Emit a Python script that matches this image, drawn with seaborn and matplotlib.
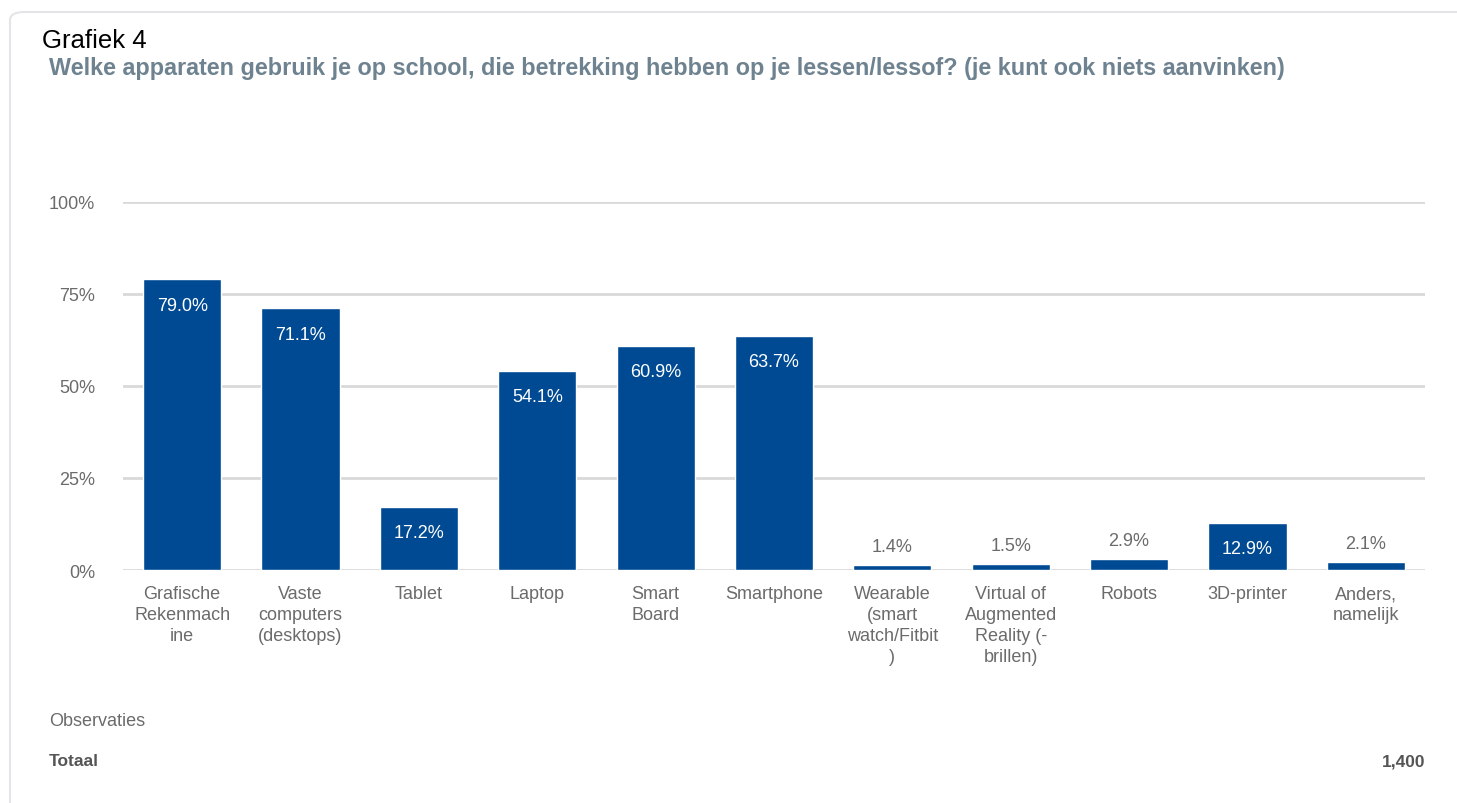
import matplotlib
matplotlib.use("Agg")
import matplotlib.pyplot as plt
from matplotlib.patches import FancyBboxPatch
import seaborn as sns
import pandas as pd

# data
categories = [
    "Grafische\nRekenmach\nine",
    "Vaste\ncomputers\n(desktops)",
    "Tablet",
    "Laptop",
    "Smart\nBoard",
    "Smartphone",
    "Wearable\n(smart\nwatch/Fitbit\n)",
    "Virtual of\nAugmented\nReality (-\nbrillen)",
    "Robots",
    "3D-printer",
    "Anders,\nnamelijk",
]
percentages = [79.0, 71.1, 17.2, 54.1, 60.9, 63.7, 1.4, 1.5, 2.9, 12.9, 2.1]
y_ticks = [0, 25, 50, 75, 100]
total_obs = "1,400"

df = pd.DataFrame({"categorie": categories, "pct": percentages})

sns.set_theme(style="white")
plt.rcParams["font.family"] = ["Liberation Sans", "DejaVu Sans"]

bar_color = "#004A93"
grey_text = "#6b6b6b"
grid_color = "#d9d9d9"

fig = plt.figure(figsize=(14.57, 8.04), dpi=100)

# card frame
frame = FancyBboxPatch((10 / 1457, -0.05), 1.2, (804 - 13) / 804 + 0.05,
                       boxstyle="round,pad=0,rounding_size=0.01",
                       transform=fig.transFigure, facecolor="white",
                       edgecolor="#e3e5e8", linewidth=1.5, zorder=-5)
fig.patches.append(frame)

ax = fig.add_axes([123 / 1457, (804 - 571) / 804, 1302 / 1457, 368 / 804])
ax.set_facecolor("none")
ax.set_zorder(2)

sns.barplot(data=df, x="categorie", y="pct", color=bar_color, width=0.66,
            saturation=1, ax=ax, zorder=3)

ax.set_xlim(-0.5, len(categories) - 0.5)
ax.set_ylim(0, 100)
ax.set_yticks(y_ticks)
ax.set_yticklabels([f"{t}%" for t in y_ticks])
for t in y_ticks:
    ax.axhline(t, color=grid_color, linewidth=2, zorder=1)

ax.set_xlabel("")
ax.set_ylabel("")
sns.despine(ax=ax, left=True, bottom=True)
ax.tick_params(axis="y", length=0, pad=20, labelsize=13, labelcolor=grey_text)
ax.tick_params(axis="x", length=0, pad=11, labelsize=13, labelcolor=grey_text)
for lbl in ax.get_xticklabels():
    lbl.set_verticalalignment("top")
    lbl.set_linespacing(1.3)

# value labels
for i, v in enumerate(percentages):
    if v >= 10:
        ax.text(i, v - 7.0, f"{v:.1f}%", ha="center", va="center",
                color="white", fontsize=13, zorder=4)
    else:
        ax.text(i, v + 2.8, f"{v:.1f}%", ha="center", va="bottom",
                color=grey_text, fontsize=13, zorder=4)

# titles
fig.text(42 / 1457, 1 - 41 / 804, "Grafiek 4", fontsize=18.5, color="black",
         va="center", ha="left")
fig.text(49 / 1457, 1 - 69 / 804,
         "Welke apparaten gebruik je op school, die betrekking hebben op je lessen/lessof? (je kunt ook niets aanvinken)",
         fontsize=16.8, color="#6e8290", fontweight="bold", va="center", ha="left")

# footer
fig.text(49 / 1457, 1 - 722 / 804, "Observaties", fontsize=13, color=grey_text,
         va="center", ha="left")
fig.text(49 / 1457, 1 - 762 / 804, "Totaal", fontsize=12.5, color="#555555",
         fontweight="bold", va="center", ha="left")
fig.text(1425 / 1457, 1 - 762 / 804, total_obs, fontsize=12.5, color="#555555",
         fontweight="bold", va="center", ha="right")

fig.savefig("out.png", dpi=100, facecolor="white")
plt.close(fig)
